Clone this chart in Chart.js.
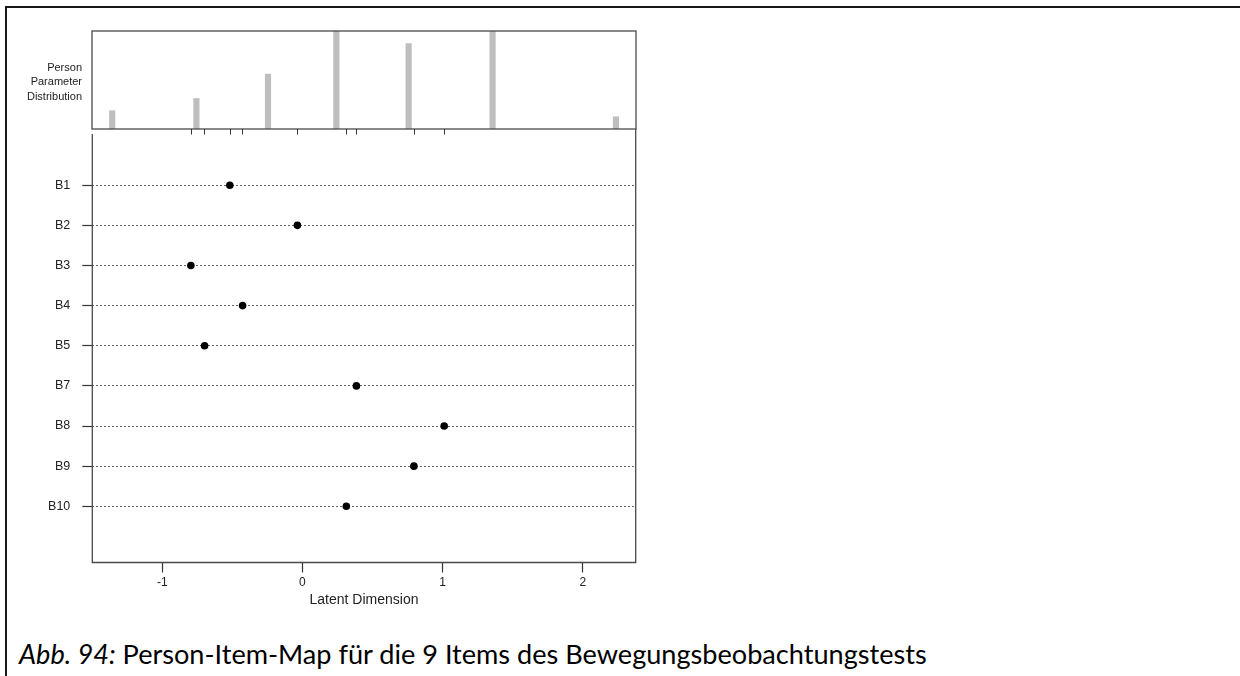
<!DOCTYPE html>
<html>
<head>
<meta charset="utf-8">
<title>Person-Item-Map</title>
<script src="https://cdn.jsdelivr.net/npm/chart.js@4.4.1/dist/chart.umd.min.js"></script>
<style>
  html, body { margin: 0; padding: 0; background: #fff; }
  #page { position: relative; width: 1240px; height: 676px; overflow: hidden; background: #fff; }
  #frame { position: absolute; left: 5px; top: 6px; width: 1240px; height: 680px;
           border-top: 2px solid #161616; border-left: 2px solid #161616; }
  #hist { position: absolute; left: 0; top: 0; }
  #map { position: absolute; left: 0; top: 120px; }
  #caption { position: absolute; left: 19px; top: 640px; white-space: nowrap; line-height: 1;
             font-family: Lato, "Open Sans", sans-serif; font-size: 24px; color: #000; }
</style>
</head>
<body>
<div id="page">
  <div id="frame"></div>
  <canvas id="hist" width="660" height="145"></canvas>
  <canvas id="map" width="660" height="500"></canvas>
  <div id="caption"><i>Abb. 94:</i> Person-Item-Map für die 9 Items des Bewegungsbeobachtungstests</div>
</div>
<script>
// person parameter distribution (top panel)
const personTheta = [-1.355, -0.755, -0.245, 0.242, 0.757, 1.355, 2.234];
const personCount = [3, 5, 9, 18, 14, 20, 2];

// item locations (lower panel), top to bottom
const itemNames = ['B1', 'B2', 'B3', 'B4', 'B5', 'B7', 'B8', 'B9', 'B10'];
const itemBeta = [-0.518, -0.036, -0.796, -0.427, -0.698, 0.385, 1.011, 0.795, 0.313];

// latent dimension ticks
const xTicks = [-1, 0, 1, 2];

// row of each item, B1 on top
const itemRow = itemNames.map((_, i) => itemNames.length - i);

Chart.defaults.font.family = '"Liberation Sans", Arial, sans-serif';
Chart.defaults.color = '#222';

const LINE = '#4a4a4a';

/**
 * Box, item rug and side label of the histogram panel
 */
const histFrame = {
  id: 'histFrame',
  afterDraw(chart) {
    const { ctx, chartArea: a, scales: { x } } = chart;
    ctx.save();
    ctx.strokeStyle = LINE;
    ctx.lineWidth = 1.3;
    ctx.strokeRect(a.left, a.top, a.right - a.left, a.bottom - a.top);

    ctx.lineWidth = 1;
    ctx.strokeStyle = '#333';
    itemBeta.forEach(b => {
      const px = Math.round(x.getPixelForValue(b)) + 0.5;
      ctx.beginPath();
      ctx.moveTo(px, a.bottom);
      ctx.lineTo(px, a.bottom + 5.5);
      ctx.stroke();
    });

    ctx.fillStyle = '#222';
    ctx.font = '11px "Liberation Sans", Arial, sans-serif';
    ctx.textAlign = 'right';
    ctx.textBaseline = 'middle';
    ['Person', 'Parameter', 'Distribution'].forEach((t, i) => {
      ctx.fillText(t, 82, 67.5 + i * 14.5);
    });
    ctx.restore();
  }
};

/**
 * Left, right and bottom edges of the item panel
 */
const mapFrame = {
  id: 'mapFrame',
  afterDraw(chart) {
    const { ctx, chartArea: a } = chart;
    ctx.save();
    ctx.strokeStyle = LINE;
    ctx.lineWidth = 1.3;
    ctx.beginPath();
    ctx.moveTo(a.left, a.top + 5);
    ctx.lineTo(a.left, a.bottom);
    ctx.lineTo(a.right, a.bottom);
    ctx.lineTo(a.right, a.top);
    ctx.stroke();
    ctx.restore();
  }
};

new Chart(document.getElementById('hist'), {
  type: 'bar',
  data: {
    datasets: [{
      data: personTheta.map((t, i) => ({ x: t, y: personCount[i] })),
      backgroundColor: '#bebebe',
      borderWidth: 0,
      barThickness: 5.5
    }]
  },
  options: {
    responsive: false,
    animation: false,
    layout: { padding: { left: 92, top: 31, right: 24, bottom: 16 } },
    scales: {
      x: { type: 'linear', display: false, offset: false, min: -1.499, max: 2.377 },
      y: { display: false, min: 0, max: 16.07 }
    },
    plugins: { legend: { display: false }, tooltip: { enabled: false } }
  },
  plugins: [histFrame]
});

new Chart(document.getElementById('map'), {
  type: 'scatter',
  data: {
    datasets: [{
      data: itemBeta.map((b, i) => ({ x: b, y: itemRow[i] })),
      pointRadius: 3.8,
      pointBackgroundColor: '#000',
      pointBorderWidth: 0
    }]
  },
  options: {
    responsive: false,
    animation: false,
    layout: { padding: { left: 0, top: 9, right: 24.3, bottom: 0 } },
    scales: {
      x: {
        type: 'linear',
        min: -1.499,
        max: 2.377,
        afterBuildTicks: s => { s.ticks = xTicks.map(v => ({ value: v })); },
        afterFit: s => {
          s.height = 57.5;
          s.paddingLeft = 0;
          s.paddingRight = 0;
        },
        grid: { drawOnChartArea: false, tickLength: 10, tickColor: '#333', tickWidth: 1.2 },
        border: { display: false },
        ticks: { font: { size: 12 }, padding: 3, maxRotation: 0 },
        title: {
          display: true,
          text: 'Latent Dimension',
          font: { size: 14 },
          padding: { top: 0, bottom: 11 }
        }
      },
      y: {
        type: 'linear',
        min: -0.4,
        max: 10.4,
        afterBuildTicks: s => { s.ticks = itemRow.map(v => ({ value: v })); },
        afterFit: s => {
          s.width = 92.3;
          s.paddingTop = 0;
          s.paddingBottom = 0;
        },
        grid: { color: '#666', lineWidth: 1, tickLength: 10, tickColor: '#333', tickWidth: 1.2, tickBorderDash: [] },
        border: { display: false, dash: [2, 2] },
        ticks: {
          font: { size: 12.5 },
          padding: 12,
          callback: v => itemNames[itemNames.length - v]
        }
      }
    },
    plugins: { legend: { display: false }, tooltip: { enabled: false } }
  },
  plugins: [mapFrame]
});

// fit the caption to the width it has in the document
const cap = document.getElementById('caption');
const capW = cap.getBoundingClientRect().width;
const capSize = 24 * 908 / capW;
cap.style.fontSize = capSize + 'px';
cap.style.top = (664 - 0.887 * capSize) + 'px';
</script>
</body>
</html>
